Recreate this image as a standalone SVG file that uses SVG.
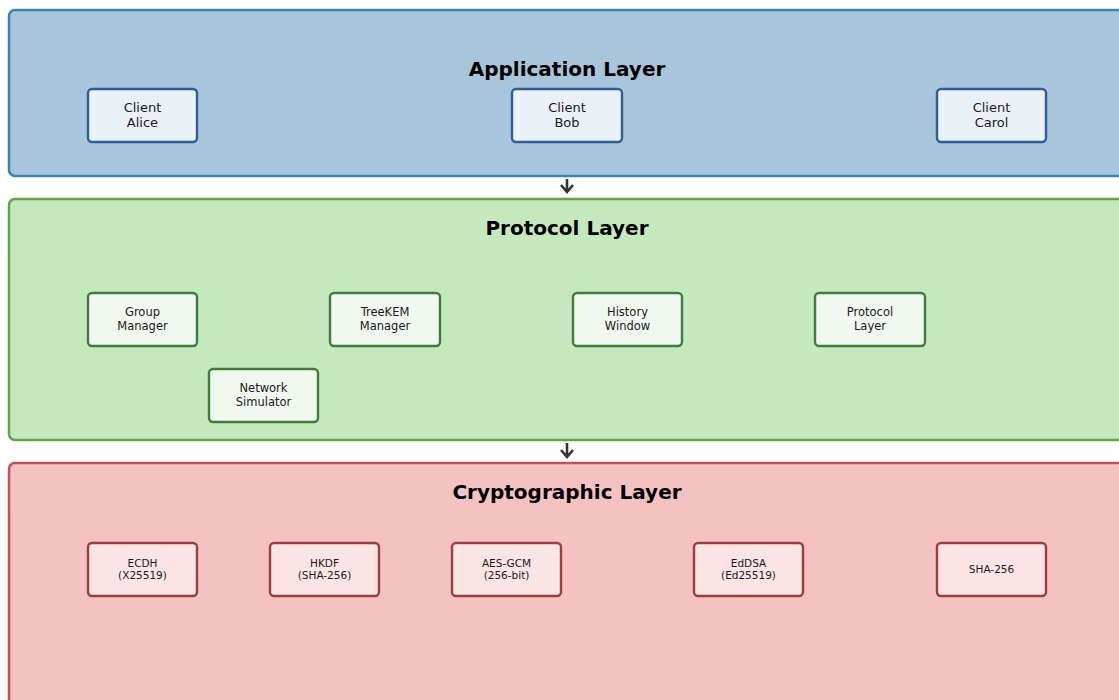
<svg xmlns="http://www.w3.org/2000/svg" width="1119" height="700" viewBox="0 0 1119 700">
  <style>
    text { font-family: "DejaVu Sans", "Liberation Sans", sans-serif; text-anchor: middle; fill: #1a1a1a; }
    .title { font-size: 20px; font-weight: bold; fill: #000; }
    .layer { stroke-width: 2.5; }
    .node { stroke-width: 2.4; }
    .app { fill: #a8c5dc; stroke: #3a86ac; }
    .appn { fill: #eaf2f8; stroke: #2b5f96; }
    .proto { fill: #c6e8bf; stroke: #6a9f4c; }
    .proton { fill: #f1f8ef; stroke: #3e7d3e; }
    .crypto { fill: #f4c2c2; stroke: #c05258; }
    .crypton { fill: #fde4e5; stroke: #9a3e42; }
    .t13 { font-size: 13px; }
    .t12 { font-size: 11.5px; }
    .t11 { font-size: 10.5px; }
    .conn { stroke: #333; stroke-width: 2.6; fill: none; }
  </style>

  <!-- layers -->
  <g id="application-layer">
    <rect class="layer app" x="9" y="10" width="1125" height="166" rx="6"/>
    <text class="title" x="567" y="76">Application Layer</text>
  </g>
  <g id="protocol-layer">
    <rect class="layer proto" x="9" y="199" width="1125" height="241" rx="6"/>
    <text class="title" x="567" y="235">Protocol Layer</text>
  </g>
  <g id="crypto-layer">
    <rect class="layer crypto" x="9" y="463" width="1125" height="260" rx="6"/>
    <text class="title" x="567" y="499">Cryptographic Layer</text>
  </g>

  <!-- application nodes -->
  <g id="client-alice">
    <rect class="node appn" x="88" y="89" width="109" height="53" rx="4"/>
    <text class="t13" x="142.5" y="112">Client</text>
    <text class="t13" x="142.5" y="127">Alice</text>
  </g>
  <g id="client-bob">
    <rect class="node appn" x="512" y="89" width="110" height="53" rx="4"/>
    <text class="t13" x="567" y="112">Client</text>
    <text class="t13" x="567" y="127">Bob</text>
  </g>
  <g id="client-carol">
    <rect class="node appn" x="937" y="89" width="109" height="53" rx="4"/>
    <text class="t13" x="991.5" y="112">Client</text>
    <text class="t13" x="991.5" y="127">Carol</text>
  </g>

  <!-- protocol nodes -->
  <g id="group-manager">
    <rect class="node proton" x="88" y="293" width="109" height="53" rx="4"/>
    <text class="t12" x="142.5" y="316">Group</text>
    <text class="t12" x="142.5" y="330">Manager</text>
  </g>
  <g id="treekem-manager">
    <rect class="node proton" x="330" y="293" width="110" height="53" rx="4"/>
    <text class="t12" x="385" y="316">TreeKEM</text>
    <text class="t12" x="385" y="330">Manager</text>
  </g>
  <g id="history-window">
    <rect class="node proton" x="573" y="293" width="109" height="53" rx="4"/>
    <text class="t12" x="627.5" y="316">History</text>
    <text class="t12" x="627.5" y="330">Window</text>
  </g>
  <g id="protocol-layer-node">
    <rect class="node proton" x="815" y="293" width="110" height="53" rx="4"/>
    <text class="t12" x="870" y="316">Protocol</text>
    <text class="t12" x="870" y="330">Layer</text>
  </g>
  <g id="network-simulator">
    <rect class="node proton" x="209" y="369" width="109" height="53" rx="4"/>
    <text class="t12" x="263.5" y="392">Network</text>
    <text class="t12" x="263.5" y="406">Simulator</text>
  </g>

  <!-- crypto nodes -->
  <g id="ecdh">
    <rect class="node crypton" x="88" y="543" width="109" height="53" rx="4"/>
    <text class="t11" x="142.5" y="567">ECDH</text>
    <text class="t11" x="142.5" y="579">(X25519)</text>
  </g>
  <g id="hkdf">
    <rect class="node crypton" x="270" y="543" width="109" height="53" rx="4"/>
    <text class="t11" x="324.5" y="567">HKDF</text>
    <text class="t11" x="324.5" y="579">(SHA-256)</text>
  </g>
  <g id="aes-gcm">
    <rect class="node crypton" x="452" y="543" width="109" height="53" rx="4"/>
    <text class="t11" x="506.5" y="567">AES-GCM</text>
    <text class="t11" x="506.5" y="579">(256-bit)</text>
  </g>
  <g id="eddsa">
    <rect class="node crypton" x="694" y="543" width="109" height="53" rx="4"/>
    <text class="t11" x="748.5" y="567">EdDSA</text>
    <text class="t11" x="748.5" y="579">(Ed25519)</text>
  </g>
  <g id="sha-256">
    <rect class="node crypton" x="937" y="543" width="109" height="53" rx="4"/>
    <text class="t11" x="991.5" y="573">SHA-256</text>
  </g>

  <!-- connectors between layers -->
  <g id="connectors">
    <path class="conn" d="M567 179 V192 M561 185 L567 192 L573 185"/>
    <path class="conn" d="M567 443 V457 M561 450 L567 457 L573 450"/>
  </g>
</svg>
